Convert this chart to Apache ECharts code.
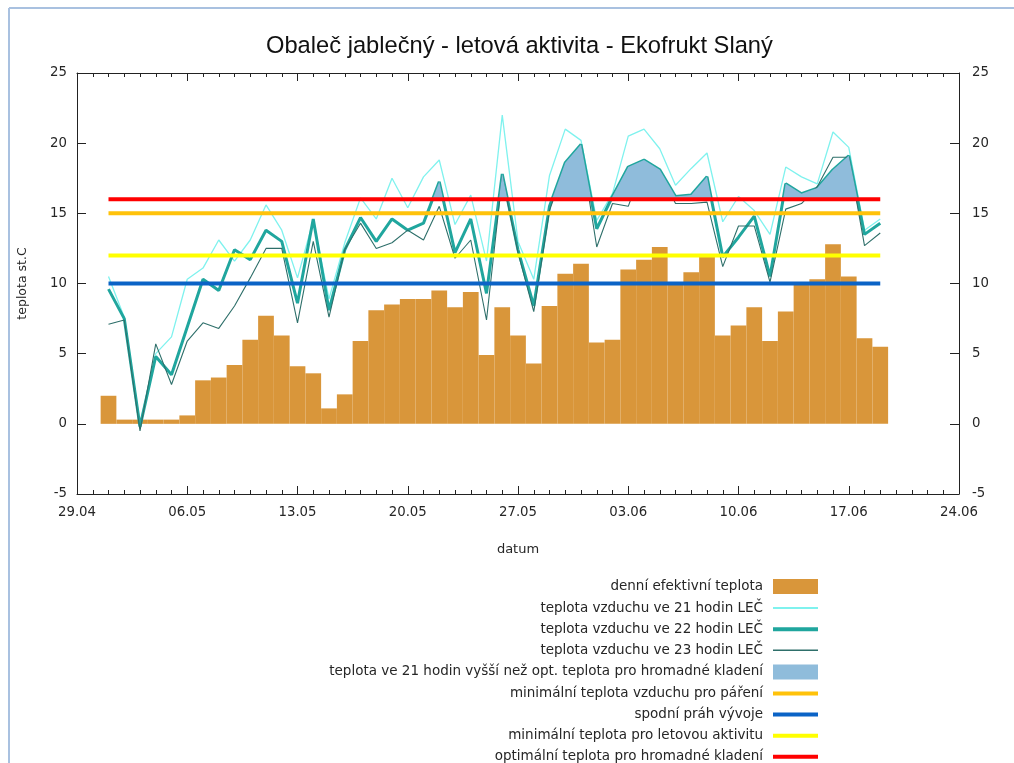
<!DOCTYPE html>
<html><head><meta charset="utf-8">
<script src="https://cdn.jsdelivr.net/npm/echarts@6/dist/echarts.min.js"></script>
<style>html,body{margin:0;padding:0;background:#fff}#c{width:1014px;height:763px}</style>
</head><body><div id="c"></div>
<script>
// ---------- data ----------
const YEAR = 2013;
const START_DAY = [29, 4];        // 29.04 = axis start
const AXIS_DAYS = 56;             // until 24.06
const tickLabels = ['29.04','06.05','13.05','20.05','27.05','03.06','10.06','17.06','24.06'];

const dates = ['01.05','02.05','03.05','04.05','05.05','06.05','07.05','08.05','09.05','10.05',
  '11.05','12.05','13.05','14.05','15.05','16.05','17.05','18.05','19.05','20.05',
  '21.05','22.05','23.05','24.05','25.05','26.05','27.05','28.05','29.05','30.05','31.05',
  '01.06','02.06','03.06','04.06','05.06','06.06','07.06','08.06','09.06','10.06',
  '11.06','12.06','13.06','14.06','15.06','16.06','17.06','18.06','19.06'];

const effTemp = [2.0,0.3,0.3,0.3,0.3,0.6,3.1,3.3,4.2,6.0,
  7.7,6.3,4.1,3.6,1.1,2.1,5.9,8.1,8.5,8.9,
  8.9,9.5,8.3,9.4,4.9,8.3,6.3,4.3,8.4,10.7,11.4,
  5.8,6.0,11.0,11.7,12.6,10.1,10.8,11.9,6.3,7.0,
  8.3,5.9,8.0,10.1,10.3,12.8,10.5,6.1,5.5];

const t21 = [10.5,7.6,0.0,5.0,6.2,10.3,11.1,13.1,11.6,13.1,
  15.6,13.8,10.4,14.5,8.9,12.9,16.1,14.6,17.5,15.4,
  17.6,18.8,14.2,16.3,11.6,22.0,13.0,10.3,17.7,21.0,20.2,
  14.5,16.4,20.5,21.0,19.6,17.0,18.2,19.3,14.4,16.2,
  15.2,13.5,18.3,17.6,17.1,20.8,19.7,13.8,14.6];

const t22 = [9.6,7.5,-0.2,4.8,3.5,6.9,10.3,9.5,12.4,11.7,
  13.8,13.0,8.6,14.6,8.1,12.4,14.7,13.0,14.6,13.8,
  14.3,17.25,12.2,14.6,9.3,17.8,12.4,8.4,15.5,18.6,19.9,
  13.9,16.2,18.3,18.8,18.1,16.2,16.3,17.6,11.9,13.3,
  14.8,10.5,17.1,16.4,16.8,18.1,19.1,13.5,14.3];

const t23 = [7.1,7.4,-0.5,5.7,2.8,5.9,7.2,6.8,8.4,10.4,
  12.5,12.5,7.2,13.0,7.6,12.4,14.3,12.5,12.9,13.8,
  13.1,15.5,11.8,13.1,7.4,17.6,12.2,8.0,15.2,18.4,19.7,
  12.6,15.7,15.5,18.6,18.0,15.7,15.7,15.8,11.2,14.1,
  14.1,10.1,15.3,15.7,16.9,19.0,19.0,12.7,13.6];

const T_OPT = 16;      // optimální teplota pro hromadné kladení
const T_MATE = 15;     // minimální teplota vzduchu pro páření
const T_FLIGHT = 12;   // minimální teplota pro letovou aktivitu
const T_BASE = 10;     // spodní práh vývoje

// ---------- helpers ----------
const DAY = 86400000;
const t0 = Date.UTC(YEAR, START_DAY[1]-1, START_DAY[0]);
function dayIndex(s){ const [d,m] = s.split('.').map(Number); return Math.round((Date.UTC(YEAR, m-1, d) - t0)/DAY); }
const xs = dates.map(dayIndex);
const pair = arr => xs.map((x,i)=>[x, arr[i]]);
const flat = v => xs.map(x=>[x, v]);

const N_BAR='denní efektivní teplota', N21='teplota vzduchu ve 21 hodin LEČ', N22='teplota vzduchu ve 22 hodin LEČ',
  N23='teplota vzduchu ve 23 hodin LEČ', NFILL='teplota ve 21 hodin vyšší než opt. teplota pro hromadné kladení',
  NMATE='minimální teplota vzduchu pro páření', NBASE='spodní práh vývoje',
  NFLIGHT='minimální teplota pro letovou aktivitu', NOPT='optimální teplota pro hromadné kladení';

const FONT = 'DejaVu Sans';
const TXT = '#262626';
const lineItem = (name, w) => ({name, itemStyle:{opacity:0}, lineStyle:{width:w}});

const chart = echarts.init(document.getElementById('c'), null, {renderer:'canvas'});
const xBase = {
  type:'value', min:0, max:AXIS_DAYS, interval:7,
  axisLine:{show:true, onZero:false, lineStyle:{color:'#222', width:1}},
  axisTick:{show:true, inside:true, length:8, lineStyle:{color:'#222'}},
  minorTick:{show:true, splitNumber:7, length:4, lineStyle:{color:'#222'}},
  splitLine:{show:false},
};
const yBase = {
  type:'value', min:-5, max:25, interval:5,
  axisLine:{show:true, onZero:false, lineStyle:{color:'#222', width:1}},
  axisTick:{show:true, inside:true, length:9, lineStyle:{color:'#222'}},
  splitLine:{show:false},
};
chart.setOption({
  animation:false,
  backgroundColor:'#fff',
  title:{text:'Obaleč jablečný - letová aktivita - Ekofrukt Slaný', left:261, top:29,
    textStyle:{fontFamily:'Liberation Sans', fontSize:23.7, fontWeight:'normal', color:'#111'}},
  graphic:[
    {type:'line', shape:{x1:9,y1:8,x2:1014,y2:8}, style:{stroke:'#a9c1e0', lineWidth:2}},
    {type:'line', shape:{x1:9,y1:8,x2:9,y2:763}, style:{stroke:'#a9c1e0', lineWidth:2}}
  ],
  grid:{left:77, right:55, top:73, bottom:269},
  xAxis:[
    Object.assign({}, xBase, {position:'bottom', name:'datum', nameLocation:'middle', nameGap:49,
      nameTextStyle:{fontFamily:FONT, fontSize:13, color:TXT},
      axisLabel:{margin:12, fontFamily:FONT, fontSize:13.3, color:TXT, formatter:v=>tickLabels[Math.round(v/7)]}}),
    Object.assign({}, xBase, {position:'top', axisLabel:{show:false}})
  ],
  yAxis:[
    Object.assign({}, yBase, {position:'left', name:'teplota st.C', nameLocation:'middle', nameGap:48, nameRotate:90,
      nameTextStyle:{fontFamily:FONT, fontSize:12.5, color:TXT},
      axisLabel:{margin:10, fontFamily:FONT, fontSize:13.3, color:TXT}}),
    Object.assign({}, yBase, {position:'right', axisLabel:{margin:13, fontFamily:FONT, fontSize:13.3, color:TXT}})
  ],
  visualMap:{type:'piecewise', show:false, seriesIndex:4, dimension:1,
    pieces:[{gte:-100, lt:T_OPT, color:'rgba(255,255,255,0)'},{gte:T_OPT, lte:100, color:'#8fbcdb'}]},
  legend:{
    orient:'vertical', right:194, top:579, height:190, padding:0, align:'right', itemWidth:45, itemHeight:15, itemGap:7.1,
    selectedMode:false, textStyle:{fontFamily:FONT, fontSize:13.5, color:TXT, padding:[0,5,0,0]},
    data:[
      {name:N_BAR, icon:'rect'},
      lineItem(N21, 2),
      lineItem(N22, 4),
      lineItem(N23, 1.5),
      {name:NFILL, icon:'rect', itemStyle:{color:'#8fbcdb'}},
      lineItem(NMATE, 4),
      lineItem(NBASE, 4),
      lineItem(NFLIGHT, 4),
      lineItem(NOPT, 4)
    ]
  },
  series:[
    {name:N_BAR, type:'bar', z:1, data:pair(effTemp), barWidth:15.74, itemStyle:{color:'#d9963a'}},
    {name:N21, type:'line', z:2, data:pair(t21), symbol:'none', lineStyle:{color:'#7ff2ee', width:1.3}, itemStyle:{color:'#7ff2ee'}},
    {name:N22, type:'line', z:2, data:pair(t22), symbol:'none', lineStyle:{color:'#20a69e', width:3}, itemStyle:{color:'#20a69e'}},
    {name:N23, type:'line', z:2, data:pair(t23), symbol:'none', lineStyle:{color:'#2e6f6a', width:1.1}, itemStyle:{color:'#2e6f6a'}},
    {name:NFILL, type:'line', z:3, data:pair(t22), symbol:'none', lineStyle:{opacity:0, width:0},
      areaStyle:{opacity:1}, itemStyle:{color:'#8fbcdb'}},
    {name:NMATE, type:'line', z:4, data:flat(T_MATE), symbol:'none', lineStyle:{color:'#ffc20a', width:4}, itemStyle:{color:'#ffc20a'}},
    {name:NBASE, type:'line', z:4, data:flat(T_BASE), symbol:'none', lineStyle:{color:'#0b63c6', width:4}, itemStyle:{color:'#0b63c6'}},
    {name:NFLIGHT, type:'line', z:4, data:flat(T_FLIGHT), symbol:'none', lineStyle:{color:'#ffff00', width:4}, itemStyle:{color:'#ffff00'}},
    {name:NOPT, type:'line', z:4, data:flat(T_OPT), symbol:'none', lineStyle:{color:'#ff0000', width:4}, itemStyle:{color:'#ff0000'}}
  ]
});
</script></body></html>
